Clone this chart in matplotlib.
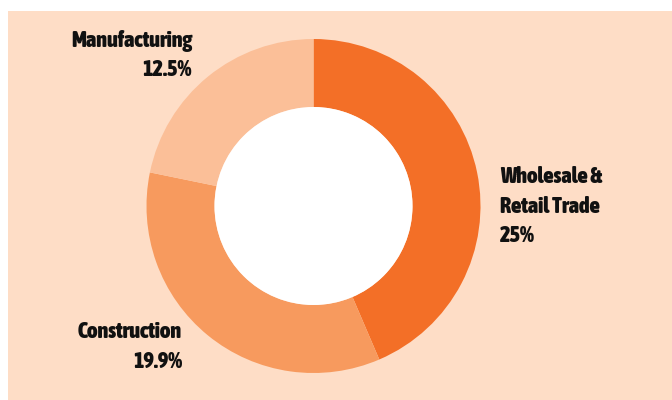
import matplotlib.pyplot as plt
from matplotlib import font_manager
from matplotlib.patches import Rectangle, Circle
import matplotlib.patheffects as pe

# datos del gráfico
sectores = ["Wholesale &\nRetail Trade", "Construction", "Manufacturing"]
porcentajes = [25, 19.9, 12.5]
colores = ["#F36F27", "#F79A5E", "#FBBF98"]

fondo = "#FEDDC6"
tinta = "#111111"

# buscar una fuente estrecha en negrita, si existe
def peso(f):
    w = f.weight
    if isinstance(w, str):
        return 700 if "bold" in w.lower() else 400
    return w

estrechas = [f for f in font_manager.fontManager.ttflist
             if ("Narrow" in f.name or "Condensed" in f.name) and f.style == "normal"]
negritas = [f for f in estrechas if peso(f) >= 600]
efectos = []
if negritas:
    props = font_manager.FontProperties(fname=negritas[0].fname, size=16)
elif estrechas:
    props = font_manager.FontProperties(fname=estrechas[0].fname, size=16)
    efectos = [pe.withStroke(linewidth=0.9, foreground=tinta)]
else:
    props = font_manager.FontProperties(family="DejaVu Sans", weight="bold", size=13)

fig = plt.figure(figsize=(6.72, 4.0), dpi=100, facecolor="white")
ax = fig.add_axes([0, 0, 1, 1])

# panel de fondo
ax.add_patch(Rectangle((8, 0), 664, 389, facecolor=fondo, edgecolor="none", zorder=0))

# anillo
ax.pie(porcentajes, colors=colores, startangle=90, counterclock=False,
       center=(313.5, 194), radius=167,
       wedgeprops=dict(width=68, edgecolor="none"))
ax.add_patch(Circle((313.5, 194), 99, facecolor="white", edgecolor="none", zorder=5))
ax.set_xlim(0, 672)
ax.set_ylim(0, 400)
ax.set_aspect("equal")
ax.axis("off")

# etiquetas
estilo = dict(fontproperties=props, color=tinta, va="baseline", path_effects=efectos)
ax.text(500, 400 - 183, "Wholesale &", ha="left", **estilo)
ax.text(500, 400 - 213, "Retail Trade", ha="left", **estilo)
ax.text(500, 400 - 242, f"{porcentajes[0]:g}%", ha="left", **estilo)
ax.text(182, 400 - 338, sectores[1], ha="right", **estilo)
ax.text(182, 400 - 368, f"{porcentajes[1]:g}%", ha="right", **estilo)
ax.text(192, 400 - 47, sectores[2], ha="right", **estilo)
ax.text(192, 400 - 76, f"{porcentajes[2]:g}%", ha="right", **estilo)

fig.savefig("out.png", dpi=100, facecolor="white")
